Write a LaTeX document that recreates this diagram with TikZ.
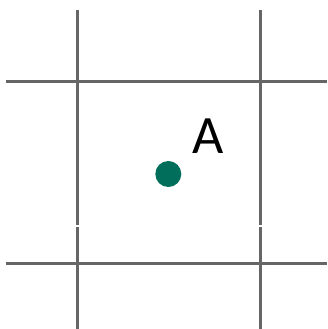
\documentclass[tikz,border=0pt]{standalone}
\usepackage{fontspec}
\setmainfont{Carlito}
\usetikzlibrary{positioning}
\definecolor{gridgray}{RGB}{102,102,102}
\definecolor{dotgreen}{RGB}{0,110,90}
\tikzset{
    gridline/.style={line width=3pt, draw=gridgray},
    dot/.style={circle, fill=dotgreen, minimum size=26pt, inner sep=0pt},
    label/.style={font=\fontsize{54}{54}\selectfont, inner sep=0pt, anchor=base}
}
\begin{document}
\begin{tikzpicture}[x=1pt, y=-1pt]
    \useasboundingbox (0,0) rectangle (327,329);
    % grid
    \draw [gridline] (77,10) -- (77,225);
    \draw [gridline] (77,227) -- (77,329);
    \draw [gridline] (260,10) -- (260,225);
    \draw [gridline] (260,227) -- (260,329);
    \draw [gridline] (6,81.5) -- (327,81.5);
    \draw [gridline] (6,263.5) -- (327,263.5);

    \node (pt) [dot] at (168.3,174) {};
    \node (lbl) [label] at (207.7,153) {A};
\end{tikzpicture}
\end{document}
